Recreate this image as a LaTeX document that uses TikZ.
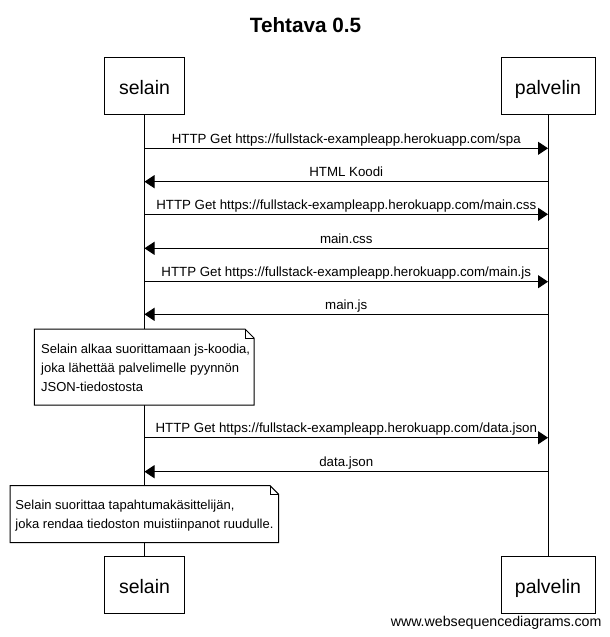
\documentclass[tikz,border=0pt]{standalone}
\usepackage{fontspec}
\setmainfont{Liberation Sans}
\usetikzlibrary{arrows.meta}

\begin{document}
\begin{tikzpicture}[x=1pt, y=-1pt, line width=1pt,
        actor/.style={draw, minimum height=57pt, text height=17.6pt, text depth=0pt, inner xsep=0pt, font=\fontsize{19.5}{23}\selectfont},
        msg/.style={-{Triangle[length=10pt, width=13pt]}},
        msglabel/.style={inner sep=0pt, text depth=0pt, anchor=base, yshift=5pt, font=\fontsize{13.3}{16}\selectfont},
        notebox/.style={draw, fill=white},
        notefold/.style={line width=0.6pt},
        notetext/.style={inner sep=0pt, anchor=north west, align=left, font=\fontsize{13}{19}\selectfont}]
        \useasboundingbox (0,0) rectangle (610,637);

        \node[font=\bfseries\fontsize{20.7}{24}\selectfont, anchor=base] (title) at (305.5,32) {Tehtava 0.5};

        \node[actor, minimum width=80pt] (selaintop) at (144.5,85.5) {selain};
        \node[actor, minimum width=94pt] (palvelintop) at (548,85.5) {palvelin};
        \node[actor, minimum width=80pt] (selainbot) at (144.5,584.5) {selain};
        \node[actor, minimum width=94pt] (palvelinbot) at (548,584.5) {palvelin};

        \draw (selaintop) -- (selainbot);
        \draw (palvelintop) -- (palvelinbot);

        \coordinate (s1) at (144.5,148.3);  \coordinate (p1) at (548,148.3);
        \coordinate (s2) at (144.5,181.7);  \coordinate (p2) at (548,181.7);
        \coordinate (s3) at (144.5,214.3);  \coordinate (p3) at (548,214.3);
        \coordinate (s4) at (144.5,248.3);  \coordinate (p4) at (548,248.3);
        \coordinate (s5) at (144.5,281.7);  \coordinate (p5) at (548,281.7);
        \coordinate (s6) at (144.5,314.3);  \coordinate (p6) at (548,314.3);
        \coordinate (s7) at (144.5,437.7);  \coordinate (p7) at (548,437.7);
        \coordinate (s8) at (144.5,471.7);  \coordinate (p8) at (548,471.7);

        \draw[msg] (s1) -- node[msglabel] (spa) {HTTP Get https://fullstack-exampleapp.herokuapp.com/spa} (p1);
        \draw[msg] (p2) -- node[msglabel] (html) {HTML Koodi} (s2);
        \draw[msg] (s3) -- node[msglabel] (getcss) {HTTP Get https://fullstack-exampleapp.herokuapp.com/main.css} (p3);
        \draw[msg] (p4) -- node[msglabel] (css) {main.css} (s4);
        \draw[msg] (s5) -- node[msglabel] (getjs) {HTTP Get https://fullstack-exampleapp.herokuapp.com/main.js} (p5);
        \draw[msg] (p6) -- node[msglabel] (js) {main.js} (s6);
        \draw[msg] (s7) -- node[msglabel] (getjson) {HTTP Get https://fullstack-exampleapp.herokuapp.com/data.json} (p7);
        \draw[msg] (p8) -- node[msglabel] (json) {data.json} (s8);

        % notes over the selain lifeline
        \draw[notebox] (34.3,329) -- (245,329) -- (254,338) -- (254,405) -- (34.3,405) -- cycle;
        \draw[notefold] (245,329) -- (245,338) -- (254,338);
        \node[notetext] (note1) at (40.7,343.8) {Selain alkaa suorittamaan js-koodia,\\joka lähettää palvelimelle pyynnön\\JSON-tiedostosta};

        \draw[notebox] (10,485.7) -- (270,485.7) -- (278.7,494.4) -- (278.7,542.7) -- (10,542.7) -- cycle;
        \draw[notefold] (270,485.7) -- (270,494.4) -- (278.7,494.4);
        \node[notetext] (note2) at (15,499.8) {Selain suorittaa tapahtumakäsittelijän,\\joka rendaa tiedoston muistiinpanot ruudulle.};

        \node[anchor=base east, inner sep=0pt, font=\fontsize{14.2}{17}\selectfont] (credit) at (602,626) {www.websequencediagrams.com};
    \end{tikzpicture}
\end{document}
